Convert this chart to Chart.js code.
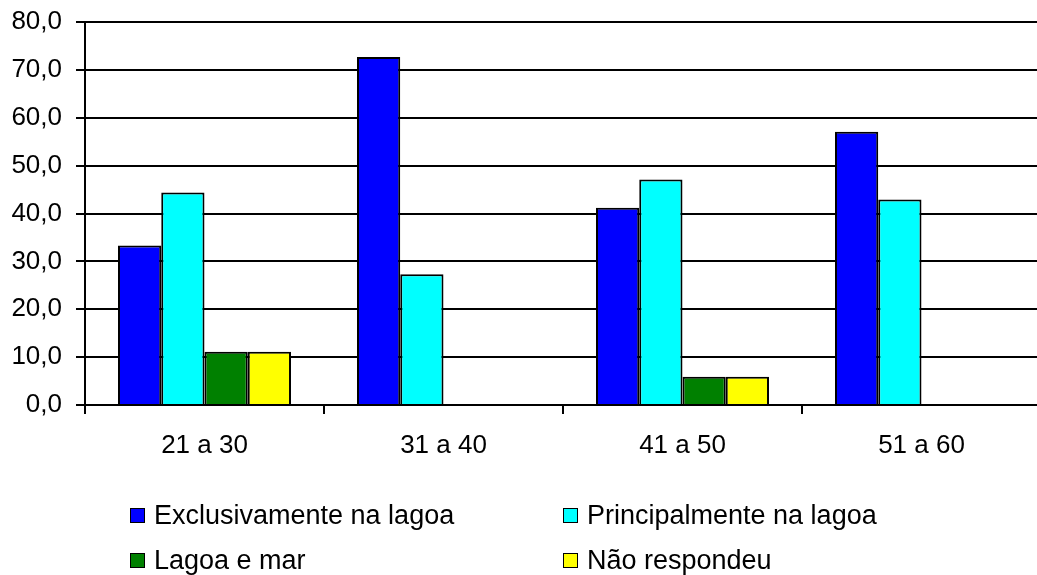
<!DOCTYPE html>
<html>
<head>
<meta charset="utf-8">
<script src="https://cdn.jsdelivr.net/npm/chart.js@4/dist/chart.umd.min.js"></script>
<style>
  html, body { margin: 0; padding: 0; background: #fff; overflow: hidden; }
  #wrap { position: relative; width: 1037px; height: 575px; overflow: hidden; }
  #chart { position: absolute; left: 0; top: 0; }
  .legend-item { position: absolute; display: flex; align-items: center; font: 27px Arial, "Liberation Sans", sans-serif; color: #000; white-space: nowrap; }
  .legend-box { width: 13px; height: 13px; border: 1.5px solid #000; margin-right: 9px; }
</style>
</head>
<body>
<div id="wrap">
  <canvas id="chart" width="1045" height="575"></canvas>
  <div id="legend"></div>
</div>
<script>
"use strict";

const categories = ['21 a 30', '31 a 40', '41 a 50', '51 a 60'];
const seriesNames = ['Exclusivamente na lagoa', 'Principalmente na lagoa', 'Lagoa e mar', 'Não respondeu'];
const seriesColors = ['#0000FF', '#00FFFF', '#008000', '#FFFF00'];

const exclusivamente = [33.3, 72.7, 41.2, 57.1];
const principalmente = [44.4, 27.3, 47.1, 42.9];
const lagoaEMar = [11.1, 0, 5.9, 0];
const naoRespondeu = [11.1, 0, 5.9, 0];

const yMin = 0;
const yMax = 80;
const yStep = 10;

const seriesValues = [exclusivamente, principalmente, lagoaEMar, naoRespondeu];

const fontFamily = 'Arial, "Liberation Sans", sans-serif';

const formatTick = (value) => Number(value).toFixed(1).replace('.', ',');

const chart = new Chart(document.getElementById('chart'), {
  type: 'bar',
  data: {
    labels: categories,
    datasets: seriesNames.map((name, i) => ({
      label: name,
      data: seriesValues[i],
      backgroundColor: seriesColors[i],
      borderColor: '#000',
      borderWidth: 2,
      categoryPercentage: 0.724,
      barPercentage: 1,
    })),
  },
  options: {
    responsive: false,
    animation: false,
    layout: {
      padding: { left: 0, top: 22, right: 4, bottom: 0 },
    },
    scales: {
      x: {
        grid: {
          drawOnChartArea: false,
          drawTicks: true,
          tickLength: 9,
          color: '#000',
          lineWidth: 2,
        },
        border: { display: true, color: '#000', width: 2 },
        ticks: {
          color: '#000',
          padding: 16,
          font: { family: fontFamily, size: 26 },
        },
        afterFit: (scale) => {
          scale.height = 170;
          scale.paddingLeft = 0;
          scale.paddingRight = 0;
        },
      },
      y: {
        min: yMin,
        max: yMax,
        ticks: {
          stepSize: yStep,
          color: '#000',
          padding: 14,
          font: { family: fontFamily, size: 26 },
          callback: (value) => formatTick(value),
        },
        grid: {
          color: '#000',
          lineWidth: 2,
          tickLength: 9,
        },
        border: { display: true, color: '#000', width: 2 },
        afterFit: (scale) => {
          scale.width = 85;
          scale.paddingTop = 0;
          scale.paddingBottom = 0;
        },
      },
    },
    plugins: {
      legend: { display: false },
      tooltip: { enabled: false },
    },
  },
});

// legend in two columns, built from the chart's own legend items
const legendRoot = document.getElementById('legend');
const legendPos = [[130, 500], [563, 500], [130, 545], [563, 545]];
chart.options.plugins.legend.labels.generateLabels(chart).forEach((item, i) => {
  const el = document.createElement('div');
  el.className = 'legend-item';
  el.style.left = legendPos[i][0] + 'px';
  el.style.top = legendPos[i][1] + 'px';
  const box = document.createElement('span');
  box.className = 'legend-box';
  box.style.background = item.fillStyle;
  el.appendChild(box);
  el.appendChild(document.createTextNode(item.text));
  legendRoot.appendChild(el);
});
</script>
</body>
</html>
